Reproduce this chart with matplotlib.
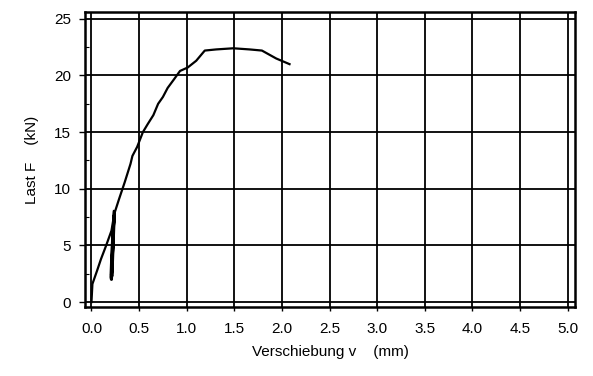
import numpy as np
import matplotlib.pyplot as plt
from matplotlib.ticker import MultipleLocator

plt.rcParams['font.family'] = ['Liberation Sans', 'DejaVu Sans']

# --- data ---
v_load = [0.0, 0.01, 0.06, 0.10, 0.15, 0.21, 0.24, 0.29, 0.35, 0.41, 0.43, 0.48,
          0.54, 0.59, 0.65, 0.70, 0.75, 0.80, 0.87, 0.93, 1.01, 1.10, 1.19,
          1.31, 1.49, 1.66, 1.79, 1.94, 2.08]
F_load = [0.0, 1.6, 2.8, 3.8, 4.9, 6.3, 7.8, 9.1, 10.6, 12.2, 12.9, 13.7,
          15.0, 15.7, 16.5, 17.5, 18.1, 18.9, 19.7, 20.4, 20.7, 21.3, 22.2,
          22.3, 22.4, 22.3, 22.2, 21.5, 21.0]

# unloading / reloading loops at about v = 0.2 mm
v_loop = [0.24, 0.215, 0.205, 0.21, 0.235, 0.225, 0.21, 0.215, 0.24]
F_loop = [8.0, 4.5, 2.2, 2.0, 7.6, 5.0, 2.4, 2.3, 7.9]

x_ticks = [0.0, 0.5, 1.0, 1.5, 2.0, 2.5, 3.0, 3.5, 4.0, 4.5, 5.0]
y_ticks = [0, 5, 10, 15, 20, 25]

fig = plt.figure(figsize=(5.93, 3.76), dpi=100)
ax = fig.add_axes([0.143, 0.183, 0.827, 0.785])

ax.plot(v_load, F_load, color='black', lw=1.6)
ax.plot(v_loop, F_loop, color='black', lw=2.2)

ax.set_xlim(-0.07, 5.08)
ax.set_ylim(-0.45, 25.6)
ax.set_xticks(x_ticks)
ax.set_xticklabels([f'{t:.1f}' for t in x_ticks])
ax.set_yticks(y_ticks)
ax.yaxis.set_minor_locator(MultipleLocator(2.5))

ax.grid(True, color='black', lw=1.3)
for s in ax.spines.values():
    s.set_linewidth(1.8)

ax.tick_params(axis='x', direction='out', length=3, width=1, pad=8,
               labelsize=11)
ax.tick_params(axis='y', direction='out', length=4, width=1, pad=6,
               labelsize=11)
ax.tick_params(axis='y', which='minor', direction='in', length=3, width=0.8)

ax.set_xlabel('Verschiebung v    (mm)', fontsize=11, labelpad=6)
ax.set_ylabel('Last F    (kN)', fontsize=11, labelpad=11)

fig.savefig('out.png', dpi=100, facecolor='white')
